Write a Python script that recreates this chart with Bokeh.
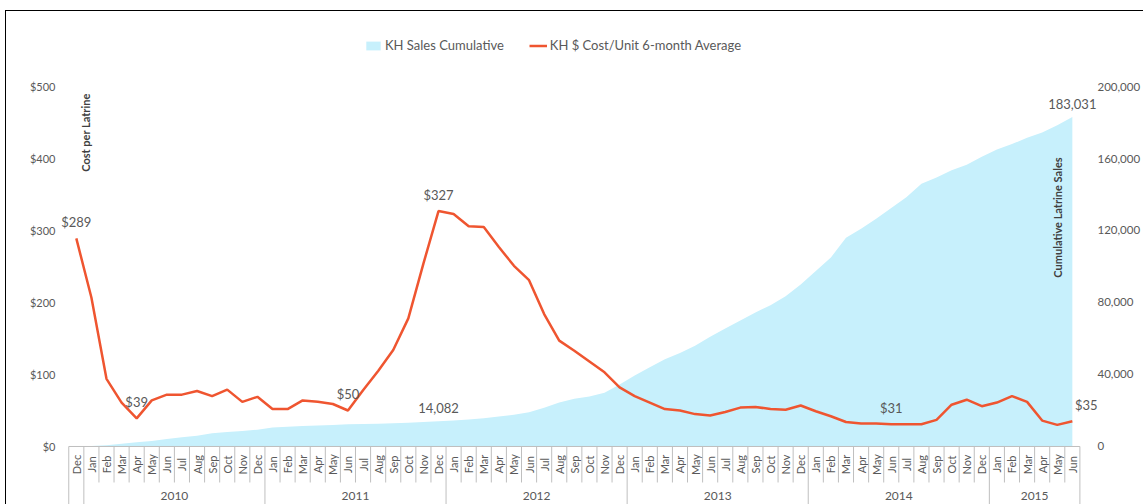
import math
from bokeh.plotting import figure
from bokeh.models import (Range1d, LinearAxis, FixedTicker, Label,
                          Legend, LegendItem, GlobalInlineStyleSheet)
from bokeh.core.properties import value
from bokeh.embed import file_html
from bokeh.resources import INLINE

# ---------------- data ----------------
month_names = ["Jan", "Feb", "Mar", "Apr", "May", "Jun",
               "Jul", "Aug", "Sep", "Oct", "Nov", "Dec"]
months = ["Dec"] + month_names * 5 + month_names[:6]
years = [""] + ["2010"] * 12 + ["2011"] * 12 + ["2012"] * 12 + \
        ["2013"] * 12 + ["2014"] * 12 + ["2015"] * 6

cost = [289, 207, 94, 61, 39, 64, 72, 72, 77, 70, 79, 62, 69,
        52, 52, 64, 62, 59, 50, 78, 105, 134, 178, 254, 327,
        323, 306, 305, 277, 251, 231, 184, 147, 133, 118, 103, 82,
        70, 61, 52, 50, 45, 43, 48, 54, 55, 52, 51, 57,
        49, 42, 34, 32, 32, 31, 31, 31, 37, 58, 65, 56,
        61, 70, 62, 36, 30, 35]

cumulative = [0, 300, 700, 1500, 2300, 3000, 4200, 5200, 6000, 7400, 8000, 8600, 9300,
              10600, 11000, 11400, 11700, 12000, 12300, 12500, 12700, 12900, 13200, 13600, 14082,
              14500, 15000, 15700, 16600, 17600, 19000, 21500, 24500, 26500, 27800, 29800, 34500,
              39500, 44000, 48500, 52000, 56000, 61000, 65500, 70000, 74500, 78500, 83500, 90000,
              97500, 105000, 116000, 121000, 126500, 132500, 138500, 146000, 149500, 153500, 156500, 161000,
              165000, 168000, 171500, 174500, 178500, 183031]

cost_ticks = [0, 100, 200, 300, 400, 500]
cost_tick_labels = ["$0", "$100", "$200", "$300", "$400", "$500"]
sales_ticks = [0, 40000, 80000, 120000, 160000, 200000]
sales_tick_labels = ["0", "40,000", "80,000", "120,000", "160,000", "200,000"]

cost_label_idx = [0, 4, 18, 24, 54, 66]
sales_label_idx = [24, 66]

legend_labels = ["KH Sales Cumulative", "KH $ Cost/Unit 6-month Average"]
left_title = "Cost per Latrine"
right_title = "Cumulative Latrine Sales"

# ---------------- style ----------------
FONT = "Lato"
GREY = "#595959"
AREA = "#C7F0FC"
LINE = "#EF5530"
SEP = "#BFBFBF"

n = len(months)
idx = list(range(n))

# frame spans slightly beyond the category cells so edge labels are not clipped
cell = 15.164
x_lo = -0.5 - 8.3 / cell
x_hi = n - 0.5 + 19.7 / cell
y_lo, y_hi = -80.56, 591.67
scale = sales_ticks[-1] / cost_ticks[-1]

p = figure(width=1143, height=504, output_backend="svg", toolbar_location=None,
           x_range=Range1d(x_lo, x_hi), y_range=Range1d(y_lo, y_hi),
           min_border_left=60, min_border_right=39, min_border_top=20,
           min_border_bottom=0, x_axis_location=None)
p.extra_y_ranges = {"sales": Range1d(y_lo * scale, y_hi * scale)}
p.grid.visible = False
p.outline_line_color = None
p.stylesheets = [GlobalInlineStyleSheet(css=(
    "body::before{content:'';position:fixed;left:5px;top:10px;right:-20px;"
    "bottom:-20px;border-left:1.5px solid #000;border-top:1.5px solid #000;"
    "z-index:1000;pointer-events:none;}"))]

# left axis
ya = p.yaxis[0]
ya.ticker = FixedTicker(ticks=cost_ticks)
ya.major_label_overrides = {t: l for t, l in zip(cost_ticks, cost_tick_labels)}
# right axis
ra = LinearAxis(y_range_name="sales", ticker=FixedTicker(ticks=sales_ticks))
ra.major_label_overrides = {t: l for t, l in zip(sales_ticks, sales_tick_labels)}
p.add_layout(ra, "right")
for ax, so, fs in ((ya, -1, "11px"), (ra, -8, "11.5px")):
    ax.axis_line_color = None
    ax.major_tick_line_color = None
    ax.minor_tick_line_color = None
    ax.major_label_text_font = FONT
    ax.major_label_text_font_size = fs
    ax.major_label_text_color = GREY
    ax.major_label_standoff = so

# area + line
area = p.varea(x=idx, y1=0, y2=cumulative, y_range_name="sales", fill_color=AREA)
line = p.line(idx, cost, line_color=LINE, line_width=2.5)

# x "table" axis
month_y = (446 - 464) / 0.72
year_y = (446 - 496) / 0.72
short_y = (446 - 482) / 0.72
p.line([-0.5, n - 0.5], [0, 0], line_color=SEP, line_width=1)
bounds_full, bounds_short = [], []
for i in range(n + 1):
    b = i - 0.5
    if i == 0 or i == n or years[i] != years[i - 1]:
        bounds_full.append(b)
    else:
        bounds_short.append(b)
p.segment(x0=bounds_full, y0=[0] * len(bounds_full), x1=bounds_full,
          y1=[y_lo] * len(bounds_full), line_color=SEP, line_width=1)
p.segment(x0=bounds_short, y0=[0] * len(bounds_short), x1=bounds_short,
          y1=[short_y] * len(bounds_short), line_color=SEP, line_width=1)
p.text(x=idx, y=[month_y] * n, text=months, angle=math.pi / 2,
       text_align="center", text_baseline="middle", text_font=value(FONT),
       text_font_size="11px", text_color=GREY)

ylab, yx = [], []
for yv in sorted(set(y for y in years if y)):
    ii = [i for i, y in enumerate(years) if y == yv]
    ylab.append(yv)
    yx.append((ii[0] + ii[-1]) / 2)
p.text(x=yx, y=[year_y] * len(yx), text=ylab, text_align="center",
       text_baseline="middle", text_font=value(FONT), text_font_size="12px",
       text_color=GREY)

# data labels
for i in cost_label_idx:
    p.add_layout(Label(x=i, y=cost[i], text="$" + str(cost[i]),
                       x_offset=14 if i == n - 1 else 0, y_offset=16,
                       text_align="center", text_baseline="middle",
                       text_font=FONT, text_font_size="13px", text_color=GREY))
for i in sales_label_idx:
    p.add_layout(Label(x=i, y=cumulative[i], text=f"{cumulative[i]:,}",
                       y_range_name="sales", y_offset=13,
                       text_align="center", text_baseline="middle",
                       text_font=FONT, text_font_size="13px", text_color=GREY))

# axis titles (inside plot)
p.text(x=[0.6], y=[436], text=[left_title], angle=math.pi / 2,
       text_align="center", text_baseline="middle", text_font=value(FONT),
       text_font_size="11px", text_font_style="bold", text_color="#404040")
p.text(x=[65.0], y=[318], text=[right_title], angle=math.pi / 2,
       text_align="center", text_baseline="middle", text_font=value(FONT),
       text_font_size="11px", text_font_style="bold", text_color="#404040")

legend = Legend(items=[LegendItem(label=legend_labels[0], renderers=[area]),
                       LegendItem(label=legend_labels[1], renderers=[line])],
                orientation="horizontal", location=(304, 451),
                border_line_color=None, background_fill_alpha=0,
                padding=0, margin=0, spacing=25, label_standoff=3,
                glyph_width=18, glyph_height=11,
                label_text_font=FONT, label_text_font_size="13px",
                label_text_color=GREY)
p.add_layout(legend)

open("out.html", "w").write(file_html(p, INLINE))
